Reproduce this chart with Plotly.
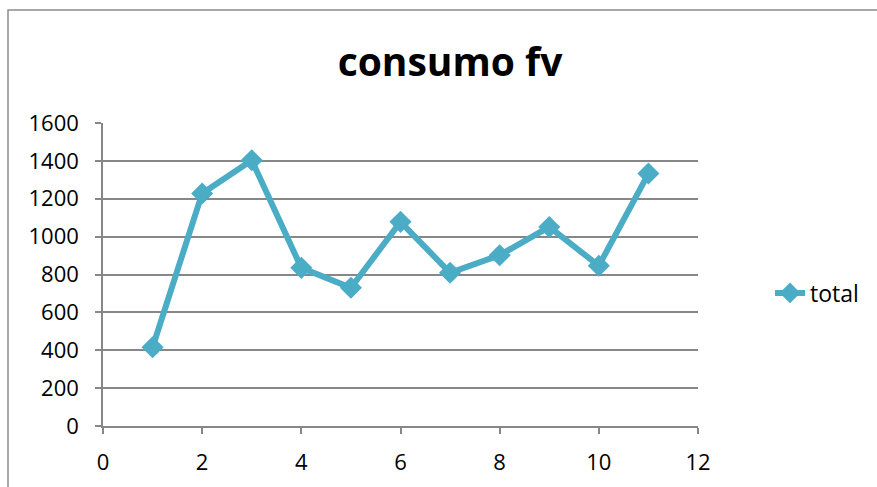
import plotly.graph_objects as go

# Monthly consumption series
months = [1, 2, 3, 4, 5, 6, 7, 8, 9, 10, 11]
total = [416, 1228, 1403, 835, 730, 1078, 809, 902, 1051, 846, 1333]

y_ticks = [0, 200, 400, 600, 800, 1000, 1200, 1400, 1600]
x_ticks = [0, 2, 4, 6, 8, 10, 12]

W, H = 877, 487
L, R, T, B = 103, 179, 123, 61
pw, ph = W - L - R, H - T - B

def px_x(p):
    return (p - L) / pw

def px_y(p):
    return (H - B - p) / ph

line_color = "#4BACC6"
axis_color = "#878787"
font_family = "Open Sans, Lato, DejaVu Sans, sans-serif"

fig = go.Figure()
fig.add_trace(go.Scatter(
    x=months, y=total, name="total", mode="lines+markers",
    line=dict(color=line_color, width=6),
    marker=dict(symbol="diamond", size=17, color=line_color),
    cliponaxis=False,
))

fig.update_layout(
    width=W, height=H,
    margin=dict(l=L, r=R, t=T, b=B, pad=0),
    paper_bgcolor="white", plot_bgcolor="white",
    font=dict(family=font_family, size=22, color="#000000"),
    title=dict(
        text="<b>consumo fv</b>",
        font=dict(family=font_family, size=39, color="#000000"),
        x=px_x(450), xref="paper", xanchor="center",
        y=1 - 62 / H, yref="container", yanchor="middle",
    ),
    showlegend=True,
    legend=dict(
        x=px_x(770), y=px_y(293), xanchor="left", yanchor="middle",
        font=dict(family=font_family, size=23, color="#000000"),
        bgcolor="rgba(0,0,0,0)",
    ),
    xaxis=dict(
        range=[0, 12], tickvals=x_ticks, ticktext=[str(v) for v in x_ticks],
        showgrid=False, zeroline=False,
        showline=True, linecolor=axis_color, linewidth=1.5,
        ticks="outside", ticklen=6, tickwidth=1.5, tickcolor=axis_color,
        tickfont=dict(size=22), ticklabelstandoff=10, fixedrange=True,
    ),
    yaxis=dict(
        range=[0, 1600], tickvals=y_ticks, ticktext=[str(v) for v in y_ticks],
        showgrid=True, gridcolor=axis_color, gridwidth=1.5, zeroline=False,
        showline=True, linecolor=axis_color, linewidth=1.5,
        ticks="outside", ticklen=6, tickwidth=1.5, tickcolor=axis_color,
        tickfont=dict(size=22), ticklabelstandoff=12, fixedrange=True,
    ),
    shapes=[dict(
        type="rect", xref="paper", yref="paper",
        x0=px_x(8), x1=px_x(W + 20), y0=px_y(H + 20), y1=px_y(10),
        line=dict(color="#8c8c8c", width=1.5), fillcolor="rgba(0,0,0,0)",
        layer="below",
    )],
)

fig.write_html("out.html")
